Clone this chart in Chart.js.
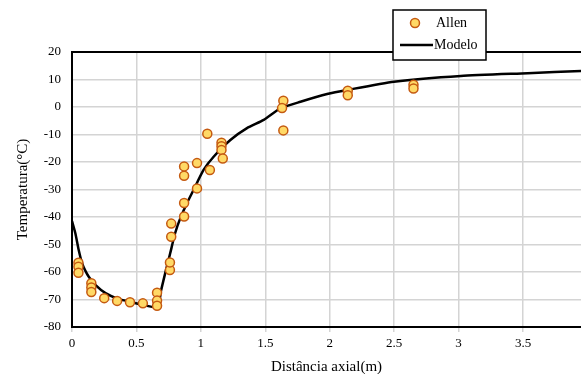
<!DOCTYPE html>
<html>
<head>
<meta charset="utf-8">
<script src="https://cdn.jsdelivr.net/npm/chart.js@4"></script>
<style>
  html, body { margin: 0; padding: 0; background: #fff; }
  #wrap { width: 581px; height: 374px; }
</style>
</head>
<body>
<div id="wrap"><canvas id="myChart" width="581" height="374"></canvas></div>
<script>
// measured points (Allen)
var allenX = [0.05, 0.05, 0.05, 0.15, 0.15, 0.15, 0.25, 0.35, 0.45, 0.55, 0.66, 0.66, 0.66,
              0.76, 0.76, 0.77, 0.77, 0.87, 0.87, 0.97, 1.07, 0.87, 0.87, 0.97, 1.05,
              1.16, 1.16, 1.16, 1.17, 1.64, 1.63, 1.64, 2.14, 2.14, 2.65, 2.65];
var allenY = [-56.6, -58.1, -60.3, -64.1, -65.6, -67.3, -69.5, -70.5, -71.0, -71.4, -67.5, -70.4, -72.3,
              -59.3, -56.5, -47.2, -42.4, -39.8, -34.9, -29.6, -22.9, -25.0, -21.6, -20.4, -9.7,
              -13.0, -14.3, -15.6, -18.7, 2.3, -0.4, -8.5, 5.9, 4.3, 8.1, 6.7];

// model curve (Modelo)
var modelX = [0, 0.026, 0.052, 0.078, 0.101, 0.13, 0.181, 0.26, 0.363, 0.425, 0.555, 0.665,
              0.69, 0.723, 0.762, 0.80, 0.84, 0.892, 0.943, 1.021, 1.099, 1.229, 1.358, 1.488,
              1.617, 1.773, 1.98, 2.136, 2.498, 3.017, 3.536, 3.95];
var modelY = [-41.5, -45.9, -52.0, -56.8, -59.3, -61.7, -64.7, -67.7, -69.9, -70.5, -72.0, -72.8,
              -67.0, -60.5, -53.2, -45.9, -40.5, -35.0, -30.2, -22.9, -18.1, -12.0, -7.7, -4.7,
              -0.5, 1.9, 4.7, 6.2, 9.2, 11.3, 12.3, 13.1];

var xTicks = [0, 0.5, 1, 1.5, 2, 2.5, 3, 3.5];

function toPoints(xs, ys) {
    var pts = [];
    for (var i = 0; i < xs.length; i++) {
        pts.push({ x: xs[i], y: ys[i] });
    }
    return pts;
}

var serif = "'Liberation Serif', 'DejaVu Serif', serif";

// top frame line + boxed legend like the original
var frameLegend = {
    id: 'frameLegend',
    afterDraw: function(chart) {
        var ctx = chart.ctx;
        var a = chart.chartArea;
        ctx.save();
        ctx.strokeStyle = '#000';
        ctx.lineWidth = 2;
        ctx.beginPath();
        ctx.moveTo(a.left, a.top);
        ctx.lineTo(a.right, a.top);
        ctx.stroke();

        // legend box
        var bx = 393, by = 10, bw = 93, bh = 50;
        ctx.fillStyle = '#fff';
        ctx.fillRect(bx, by, bw, bh);
        ctx.lineWidth = 1.5;
        ctx.strokeRect(bx, by, bw, bh);

        var ds = chart.data.datasets;
        ctx.font = '14px ' + serif;
        ctx.textBaseline = 'middle';
        ctx.fillStyle = '#000';

        // Allen marker
        ctx.beginPath();
        ctx.arc(415, 23, 4.5, 0, Math.PI * 2);
        ctx.fillStyle = ds[0].backgroundColor;
        ctx.fill();
        ctx.lineWidth = 1.5;
        ctx.strokeStyle = ds[0].borderColor;
        ctx.stroke();
        ctx.fillStyle = '#000';
        ctx.fillText(ds[0].label, 436, 23);

        // Modelo line
        ctx.beginPath();
        ctx.moveTo(400, 45);
        ctx.lineTo(433, 45);
        ctx.lineWidth = 2.5;
        ctx.strokeStyle = ds[1].borderColor;
        ctx.stroke();
        ctx.fillText(ds[1].label, 434, 45);
        ctx.restore();
    }
};

var ctx = document.getElementById('myChart').getContext('2d');
var myChart = new Chart(ctx, {
    type: 'scatter',
    data: {
        datasets: [{
            label: 'Allen',
            data: toPoints(allenX, allenY),
            backgroundColor: '#FFD966',
            borderColor: '#C55A11',
            borderWidth: 1.5,
            pointRadius: 4.5
        }, {
            label: 'Modelo',
            type: 'line',
            data: toPoints(modelX, modelY),
            borderColor: '#000',
            borderWidth: 2.5,
            pointRadius: 0,
            tension: 0.2,
            fill: false
        }]
    },
    options: {
        responsive: false,
        animation: false,
        layout: { autoPadding: false, padding: { top: 52, right: 0, left: 0, bottom: 0 } },
        plugins: {
            legend: { display: false },
            tooltip: { enabled: false }
        },
        scales: {
            x: {
                type: 'linear',
                min: 0,
                max: 3.95,
                afterBuildTicks: function(axis) {
                    axis.ticks = xTicks.map(function(v) { return { value: v }; });
                },
                afterFit: function(axis) {
                    axis.height = 47;
                    axis.paddingRight = 0;
                },
                ticks: {
                    color: '#000',
                    font: { family: serif, size: 13 },
                    padding: 4,
                    maxRotation: 0,
                    autoSkip: false,
                    callback: function(v) { return String(v); }
                },
                grid: { color: '#d4d4d4', lineWidth: 1.5, tickLength: 5 },
                border: { color: '#000', width: 2 },
                title: {
                    display: true,
                    text: 'Distância axial(m)',
                    color: '#000',
                    font: { family: serif, size: 15 },
                    padding: { top: 2, bottom: -2 }
                }
            },
            y: {
                min: -80,
                max: 20,
                afterFit: function(axis) { axis.width = 72; },
                ticks: {
                    stepSize: 10,
                    color: '#000',
                    font: { family: serif, size: 13 },
                    padding: 11
                },
                grid: { color: '#d4d4d4', lineWidth: 1.5, drawTicks: false },
                border: { color: '#000', width: 2 },
                title: {
                    display: true,
                    text: 'Temperatura(°C)',
                    color: '#000',
                    font: { family: serif, size: 15 },
                    padding: { top: 14, bottom: 2 }
                }
            }
        }
    },
    plugins: [frameLegend]
});
</script>
</body>
</html>
